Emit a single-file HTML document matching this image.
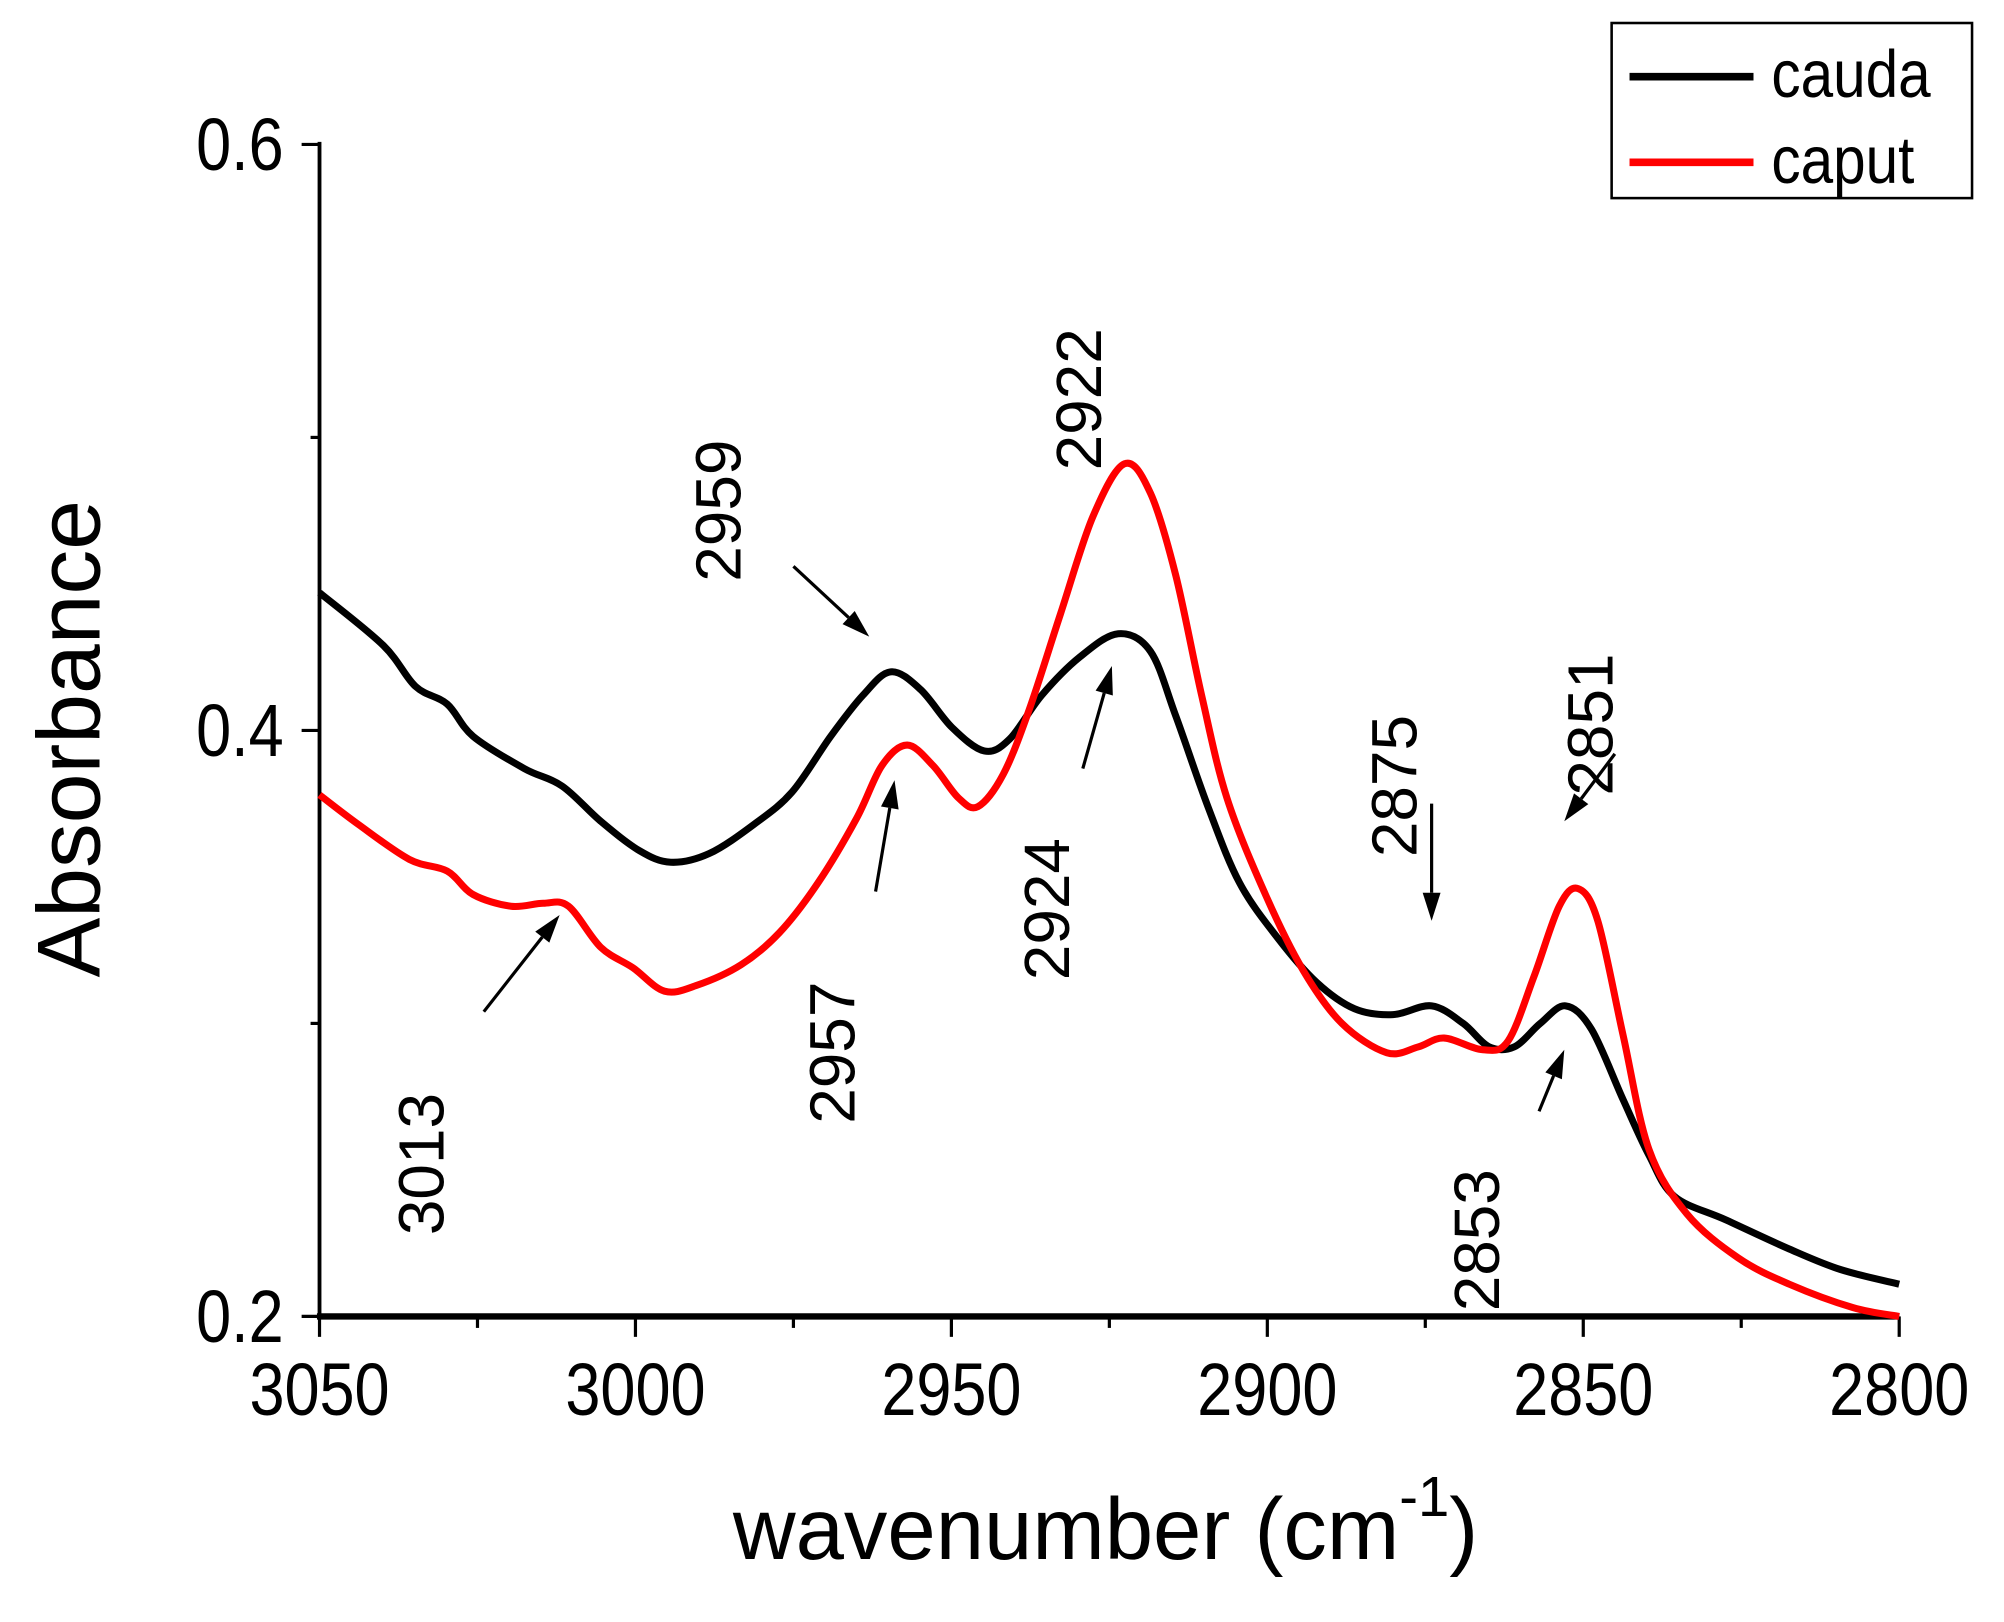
<!DOCTYPE html>
<html><head><meta charset="utf-8"><style>
html,body{margin:0;padding:0;background:#fff;}
svg{display:block;}
text{font-family:"Liberation Sans",Arial,sans-serif;fill:#000;}
</style></head><body>
<svg id="chart" width="2004" height="1622" viewBox="0 0 1568 1269.1" xmlns="http://www.w3.org/2000/svg">
<g id="axes"></g>
<g id="series"></g>
<g id="annots"></g>
<text x="865" y="1220" font-size="68" text-anchor="middle">wavenumber (cm<tspan font-size="44" dy="-34">-1</tspan><tspan dy="34">)</tspan></text>
<text transform="translate(78,578) rotate(-90)" font-size="70" text-anchor="middle">Absorbance</text>
<g>
<rect x="1261" y="18" width="282" height="137" fill="#fff" stroke="#000" stroke-width="2"/>
<line x1="1275" y1="60" x2="1372" y2="60" stroke="#000" stroke-width="6"/>
<text x="1386" y="76" font-size="52" transform="translate(1386,0) scale(0.88,1) translate(-1386,0)">cauda</text>
<line x1="1275" y1="127" x2="1372" y2="127" stroke="#ff0000" stroke-width="6"/>
<text x="1386" y="143" font-size="52" transform="translate(1386,0) scale(0.88,1) translate(-1386,0)">caput</text>
</g>
</svg>
<script>
const xTicks = [3050, 3000, 2950, 2900, 2850, 2800];
const xMinor = [3025, 2975, 2925, 2875, 2825];
const yTicks = [0.2, 0.4, 0.6];
const yMinor = [0.3, 0.5];
const caudaW = [3050,3039.9,3034.8,3029.8,3025.7,3017.6,3011.6,3005.5,2999.4,2994.4,2988.3,2981.2,2975.2,2969.1,2964.0,2959.6,2954.9,2949.9,2944.8,2940.8,2935.7,2929.7,2923.6,2918.5,2914.5,2909.4,2904.4,2898.3,2892.2,2886.2,2880.1,2874.0,2869.0,2864.9,2860.9,2856.8,2852.8,2848.7,2843.7,2839.6,2835.6,2827.5,2817.4,2809.3,2800];
const caudaA = [0.447,0.429,0.415,0.409,0.398,0.387,0.381,0.369,0.359,0.355,0.358,0.368,0.379,0.398,0.412,0.420,0.414,0.401,0.393,0.397,0.412,0.425,0.433,0.427,0.405,0.374,0.348,0.329,0.314,0.305,0.303,0.306,0.300,0.292,0.292,0.300,0.306,0.298,0.274,0.255,0.241,0.233,0.223,0.216,0.211];
const caputW = [3050,3043.9,3035.8,3029.8,3025.7,3019.7,3014.6,3010.6,3005.5,3000.4,2995.4,2990.3,2983.3,2977.2,2971.1,2965.0,2961.0,2957.0,2952.9,2948.9,2945.8,2941.8,2937.7,2932.7,2927.6,2922.6,2918.5,2914.5,2910.4,2906.4,2900.3,2894.3,2888.2,2881.1,2876.1,2872.0,2865.9,2861.9,2857.8,2853.8,2850.8,2847.7,2843.7,2839.6,2833.6,2825.5,2817.4,2807.3,2800];
const caputA = [0.378,0.368,0.356,0.352,0.344,0.340,0.341,0.340,0.326,0.319,0.311,0.313,0.320,0.331,0.348,0.370,0.388,0.395,0.388,0.377,0.374,0.385,0.407,0.440,0.473,0.491,0.481,0.453,0.412,0.377,0.344,0.318,0.300,0.290,0.292,0.295,0.291,0.294,0.316,0.340,0.346,0.335,0.296,0.257,0.235,0.220,0.211,0.203,0.200];
const annLabels = ["2959","2922","2924","2957","3013","2875","2851","2853"];
const annLabelW = [2987,2930,2935,2969,3034,2880,2849,2867];
const annLabelA = [0.475,0.513,0.339,0.290,0.252,0.381,0.402,0.226];
const arrowNames = ["2959","2924","2957","3013","2875","2851","2853"];
const arrowFromW = [2975,2929.2,2962,3024,2874,2845,2857];
const arrowFromA = [0.456,0.387,0.345,0.304,0.375,0.392,0.270];
const arrowToW = [2963,2924.6,2959,3012,2874,2853,2853];
const arrowToA = [0.432,0.422,0.383,0.337,0.335,0.369,0.291];

const L=250,R=1486,T=113,B=1030;
const X=w=>L+(3050-w)/250*(R-L);
const Y=v=>B-(v-0.2)/0.4*(B-T);
const NS='http://www.w3.org/2000/svg';
function mk(tag,parent,attrs){const e=document.createElementNS(NS,tag);for(const k in attrs)e.setAttribute(k,attrs[k]);parent.appendChild(e);return e;}
const ax=document.getElementById('axes');
let e=mk('line',ax,{x1:L,y1:T-2,x2:L,y2:B,stroke:'#000','stroke-width':3});


e=mk('line',ax,{x1:L-2,y1:B,x2:R,y2:B,stroke:'#000','stroke-width':5});


xTicks.forEach(t=>{
  const l=mk('line',ax,{x1:X(t),y1:B,x2:X(t),y2:B+16,stroke:'#000','stroke-width':2.5});
  
  
  const s=mk('text',ax,{x:0,y:0,'font-size':58,'text-anchor':'middle',transform:'translate('+X(t)+',1107) scale(0.85,1)'});
  s.textContent=t;
  
  
});
xMinor.forEach(t=>{
  const l=mk('line',ax,{x1:X(t),y1:B,x2:X(t),y2:B+9,stroke:'#000','stroke-width':2.5});
  
  
});
yTicks.forEach(t=>{
  const l=mk('line',ax,{x1:L-14,y1:Y(t),x2:L,y2:Y(t),stroke:'#000','stroke-width':2.5});
  
  
  const s=mk('text',ax,{x:0,y:0,'font-size':58,'text-anchor':'end',transform:'translate(222,'+(Y(t)+20)+') scale(0.85,1)'});
  s.textContent=t.toFixed(1);
  
  
});
yMinor.forEach(t=>{
  const l=mk('line',ax,{x1:L-7,y1:Y(t),x2:L,y2:Y(t),stroke:'#000','stroke-width':2.5});
  
  
});
function smooth(ws,as){
  const p=ws.map((w,i)=>[X(w),Y(as[i])]);
  let d='M'+p[0][0]+','+p[0][1];
  for(let i=0;i<p.length-1;i++){
    const p0=p[i-1]||p[i],p1=p[i],p2=p[i+1],p3=p[i+2]||p2;
    const c1=[p1[0]+(p2[0]-p0[0])/6,p1[1]+(p2[1]-p0[1])/6];
    const c2=[p2[0]-(p3[0]-p1[0])/6,p2[1]-(p3[1]-p1[1])/6];
    d+=' C'+c1[0]+','+c1[1]+' '+c2[0]+','+c2[1]+' '+p2[0]+','+p2[1];
  }
  return d;
}
const sg=document.getElementById('series');
e=mk('path',sg,{d:smooth(caudaW,caudaA),fill:'none',stroke:'#000','stroke-width':5.5,'stroke-linejoin':'round'});


e=mk('path',sg,{d:smooth(caputW,caputA),fill:'none',stroke:'#ff0000','stroke-width':5.5,'stroke-linejoin':'round'});


const an=document.getElementById('annots');
annLabels.forEach((lab,i)=>{
  const cx=X(annLabelW[i]),cy=Y(annLabelA[i]);
  const s=mk('text',an,{transform:'translate('+(cx+18)+','+cy+') rotate(-90)','font-size':50,'text-anchor':'middle'});
  s.textContent=lab;
  
  
});
arrowNames.forEach((lab,i)=>{
  const x1=X(arrowFromW[i]),y1=Y(arrowFromA[i]),x2=X(arrowToW[i]),y2=Y(arrowToA[i]);
  const dx=x2-x1,dy=y2-y1,len=Math.hypot(dx,dy),ux=dx/len,uy=dy/len;
  const hl=22,hw=7;
  const bx=x2-ux*hl,by=y2-uy*hl;
  const ln=mk('line',an,{x1:x1,y1:y1,x2:bx,y2:by,stroke:'#000','stroke-width':2.5});
  
  
  const hd=mk('polygon',an,{points:x2+','+y2+' '+(bx-uy*hw)+','+(by+ux*hw)+' '+(bx+uy*hw)+','+(by-ux*hw),fill:'#000'});
  
  
});
</script>
</body></html>
